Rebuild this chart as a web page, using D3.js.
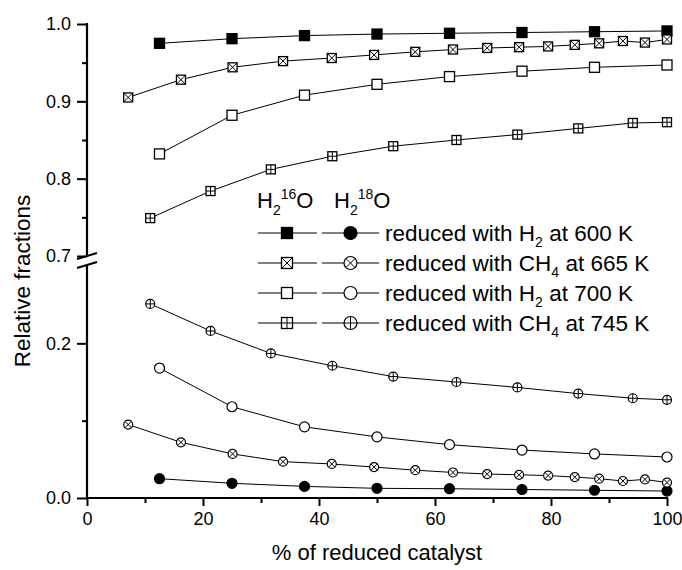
<!DOCTYPE html>
<html><head><meta charset="utf-8">
<script src="https://cdn.jsdelivr.net/npm/d3@7"></script>
<style>body{margin:0;background:#fff}svg{display:block}text{font-family:"Liberation Sans",Arial,sans-serif;fill:#000}</style>
</head><body><svg id="c" width="682" height="570"></svg>
<script>
// ---- data ----
const xH2_600 = [12.5, 25, 37.5, 50, 62.5, 75, 87.5, 100];
const h2_600_16O = [0.975, 0.981, 0.985, 0.987, 0.988, 0.989, 0.990, 0.991];
const h2_600_18O = [0.025, 0.019, 0.015, 0.0125, 0.012, 0.011, 0.010, 0.009];

const xCH4_665 = [7.1, 16.2, 25.1, 33.8, 42.2, 49.5, 56.6, 63.1, 69.0, 74.5, 79.5, 84.1, 88.3, 92.4, 96.2, 100];
const ch4_665_16O = [0.905, 0.928, 0.944, 0.952, 0.956, 0.960, 0.964, 0.967, 0.969, 0.970, 0.971, 0.973, 0.975, 0.978, 0.976, 0.980];
const ch4_665_18O = [0.095, 0.072, 0.057, 0.047, 0.044, 0.040, 0.036, 0.033, 0.031, 0.030, 0.029, 0.027, 0.025, 0.022, 0.024, 0.020];

const xH2_700 = [12.5, 25, 37.5, 50, 62.5, 75, 87.5, 100];
const h2_700_16O = [0.832, 0.882, 0.908, 0.922, 0.932, 0.939, 0.944, 0.947];
const h2_700_18O = [0.168, 0.118, 0.092, 0.079, 0.069, 0.062, 0.057, 0.053];

const xCH4_745 = [10.9, 21.3, 31.7, 42.3, 52.8, 63.7, 74.2, 84.7, 94.1, 100];
const ch4_745_16O = [0.749, 0.784, 0.812, 0.829, 0.842, 0.850, 0.857, 0.865, 0.872, 0.873];
const ch4_745_18O = [0.251, 0.216, 0.187, 0.171, 0.157, 0.150, 0.143, 0.135, 0.129, 0.127];

const legendGas = ["H", "CH", "H", "CH"];
const legendSub = ["2", "4", "2", "4"];
const legendRest = [" at 600 K", " at 665 K", " at 700 K", " at 745 K"];
const markerKinds = ["filled", "cross", "open", "plus"];

const xTicks = [0, 20, 40, 60, 80, 100];
const xMinor = [10, 30, 50, 70, 90];
const yUpperTicks = [0.7, 0.8, 0.9, 1.0];
const yUpperMinor = [0.75, 0.85, 0.95];
const yLowerTicks = [0.0, 0.2];
const yLowerMinor = [0.1];

// ---- layout ----
const svg = d3.select("#c");
const x = d3.scaleLinear().domain([0, 100]).range([87, 667]);
const yU = d3.scaleLinear().domain([0.7, 1.0]).range([256, 24]);
const yL = d3.scaleLinear().domain([0, 0.3]).range([498, 266]);

const series = [
  {xs: xH2_600, a: h2_600_16O, b: h2_600_18O, kind: markerKinds[0]},
  {xs: xCH4_665, a: ch4_665_16O, b: ch4_665_18O, kind: markerKinds[1]},
  {xs: xH2_700, a: h2_700_16O, b: h2_700_18O, kind: markerKinds[2]},
  {xs: xCH4_745, a: ch4_745_16O, b: ch4_745_18O, kind: markerKinds[3]},
];

function marker(g, shape, kind, cx, cy, big) {
  let s = (kind === "filled" || kind === "open") ? 10 : 9;
  if (big) s = shape === "square" ? 11 : 13;
  const h = s / 2;
  const fill = kind === "filled" ? "#000" : "#fff";
  if (shape === "square") {
    g.append("rect").attr("x", cx - h).attr("y", cy - h).attr("width", s).attr("height", s)
      .attr("fill", fill).attr("stroke", "#000").attr("stroke-width", 1.3);
  } else {
    g.append("circle").attr("cx", cx).attr("cy", cy).attr("r", h)
      .attr("fill", fill).attr("stroke", "#000").attr("stroke-width", 1.2);
  }
  const k = shape === "square" ? h : h * 0.707;
  if (kind === "cross") {
    g.append("line").attr("x1", cx - k).attr("y1", cy - k).attr("x2", cx + k).attr("y2", cy + k).attr("stroke", "#000").attr("stroke-width", 1);
    g.append("line").attr("x1", cx - k).attr("y1", cy + k).attr("x2", cx + k).attr("y2", cy - k).attr("stroke", "#000").attr("stroke-width", 1);
  } else if (kind === "plus") {
    g.append("line").attr("x1", cx - h).attr("y1", cy).attr("x2", cx + h).attr("y2", cy).attr("stroke", "#000").attr("stroke-width", 1);
    g.append("line").attr("x1", cx).attr("y1", cy - h).attr("x2", cx).attr("y2", cy + h).attr("stroke", "#000").attr("stroke-width", 1);
  }
}

const plot = svg.append("g");
series.forEach(s => {
  const upper = s.xs.map((v, i) => [v, s.a[i]]);
  const lower = s.xs.map((v, i) => [v, s.b[i]]);
  plot.append("path").datum(upper).attr("fill", "none").attr("stroke", "#000").attr("stroke-width", 1)
    .attr("d", d3.line().x(d => x(d[0])).y(d => yU(d[1])));
  plot.append("path").datum(lower).attr("fill", "none").attr("stroke", "#000").attr("stroke-width", 1)
    .attr("d", d3.line().x(d => x(d[0])).y(d => yL(d[1])));
  upper.forEach(d => marker(plot, "square", s.kind, x(d[0]), yU(d[1])));
  lower.forEach(d => marker(plot, "circle", s.kind, x(d[0]), yL(d[1])));
});

// ---- axes ----
const fmt = d3.format(".1f");
svg.append("g").attr("transform", "translate(0,498)")
  .call(d3.axisBottom(x).tickValues(xTicks).tickSize(8).tickPadding(6).tickFormat(d3.format("d")));
svg.append("g").attr("transform", "translate(0,498)")
  .call(d3.axisBottom(x).tickValues(xMinor).tickSize(5).tickFormat(""));
svg.append("g").attr("transform", "translate(87,0)")
  .call(d3.axisLeft(yU).tickValues(yUpperTicks).tickSize(10).tickPadding(6).tickFormat(fmt));
svg.append("g").attr("transform", "translate(87,0)")
  .call(d3.axisLeft(yU).tickValues(yUpperMinor).tickSize(5).tickFormat(""));
svg.append("g").attr("transform", "translate(87,0)")
  .call(d3.axisLeft(yL).tickValues(yLowerTicks).tickSize(10).tickPadding(6).tickFormat(fmt));
svg.append("g").attr("transform", "translate(87,0)")
  .call(d3.axisLeft(yL).tickValues(yLowerMinor).tickSize(5).tickFormat(""));
svg.selectAll(".domain").remove();
svg.selectAll(".tick line").attr("stroke", "#000").attr("stroke-width", 2);
svg.selectAll(".tick text").attr("font-size", 18).attr("font-family", "Liberation Sans, Arial, sans-serif").attr("fill", "#000");

// axis lines
svg.append("line").attr("x1", 87).attr("x2", 668).attr("y1", 498).attr("y2", 498).attr("stroke", "#000").attr("stroke-width", 2.2);
svg.append("line").attr("x1", 87).attr("x2", 87).attr("y1", 23).attr("y2", 257).attr("stroke", "#000").attr("stroke-width", 2.2);
svg.append("line").attr("x1", 87).attr("x2", 87).attr("y1", 265).attr("y2", 499).attr("stroke", "#000").attr("stroke-width", 2.2);
// break marks
[[77, 259, 97, 253], [77, 268, 97, 262]].forEach(b =>
  svg.append("line").attr("x1", b[0]).attr("y1", b[1]).attr("x2", b[2]).attr("y2", b[3]).attr("stroke", "#000").attr("stroke-width", 2));

// titles
svg.append("text").attr("x", 377).attr("y", 560).attr("text-anchor", "middle").attr("font-size", 22).text("% of reduced catalyst");
svg.append("text").attr("transform", "translate(30,281) rotate(-90)").attr("text-anchor", "middle").attr("font-size", 22.5).text("Relative fractions");

// ---- legend ----
const lg = svg.append("g");
function isoHeader(xp, iso) {
  const t = lg.append("text").attr("x", xp).attr("y", 208).attr("font-size", 22);
  t.append("tspan").text("H");
  t.append("tspan").attr("font-size", 14).attr("dy", 7).text("2");
  t.append("tspan").attr("font-size", 14).attr("dy", -16).text(iso);
  t.append("tspan").attr("dy", 9).text("O");
}
isoHeader(257, "16");
isoHeader(334, "18");
const rowY = [233, 263, 293, 323];
series.forEach((s, i) => {
  const y = rowY[i];
  lg.append("line").attr("x1", 258).attr("x2", 317).attr("y1", y).attr("y2", y).attr("stroke", "#000").attr("stroke-width", 1);
  lg.append("line").attr("x1", 322).attr("x2", 379).attr("y1", y).attr("y2", y).attr("stroke", "#000").attr("stroke-width", 1);
  marker(lg, "square", s.kind, 287, y, true);
  marker(lg, "circle", s.kind, 350.5, y, true);
  const t = lg.append("text").attr("x", 385).attr("y", y + 8).attr("font-size", 22.5);
  t.append("tspan").text("reduced with " + legendGas[i]);
  t.append("tspan").attr("font-size", 14).attr("dy", 6).text(legendSub[i]);
  t.append("tspan").attr("dy", -6).text(legendRest[i]);
});
</script></body></html>
